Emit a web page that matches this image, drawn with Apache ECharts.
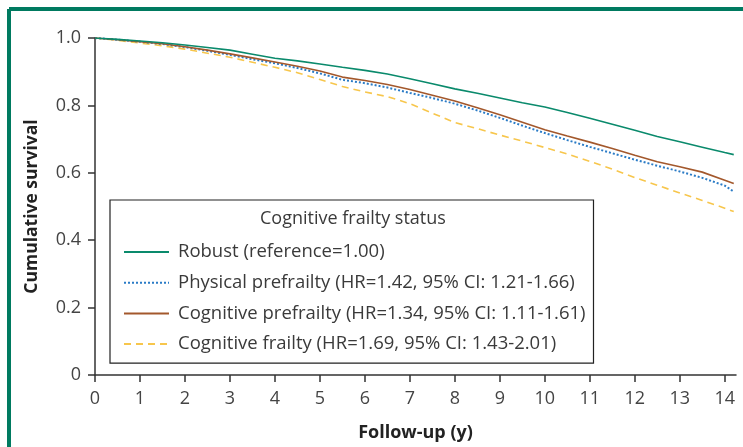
<!DOCTYPE html>
<html>
<head>
<meta charset="utf-8">
<script src="https://cdn.jsdelivr.net/npm/echarts@6/dist/echarts.min.js"></script>
<style>
html,body{margin:0;padding:0;background:#fff;}
#c{width:743px;height:447px;}
</style>
</head>
<body>
<div id="c"></div>
<script>
// Follow-up times (years)
const years = [0,0.5,1,1.5,2,2.5,3,3.5,4,4.5,5,5.5,6,6.5,7,7.5,8,8.5,9,9.5,10,10.5,11,11.5,12,12.5,13,13.5,14,14.2];
const robust = [1.000,0.996,0.991,0.986,0.979,0.972,0.964,0.952,0.940,0.932,0.923,0.913,0.904,0.893,0.879,0.864,0.849,0.836,0.822,0.808,0.795,0.779,0.762,0.744,0.726,0.708,0.692,0.676,0.660,0.654];
const physicalPrefrailty = [1.000,0.995,0.989,0.982,0.973,0.962,0.950,0.937,0.925,0.911,0.895,0.876,0.866,0.853,0.837,0.822,0.805,0.785,0.763,0.740,0.718,0.697,0.677,0.658,0.639,0.621,0.604,0.585,0.562,0.544];
const cognitivePrefrailty = [1.000,0.995,0.989,0.983,0.974,0.964,0.953,0.941,0.929,0.916,0.902,0.884,0.874,0.862,0.847,0.830,0.813,0.793,0.772,0.750,0.728,0.709,0.691,0.672,0.652,0.633,0.618,0.602,0.578,0.568];
const cognitiveFrailty = [1.000,0.993,0.985,0.977,0.967,0.955,0.943,0.928,0.913,0.897,0.877,0.856,0.840,0.826,0.805,0.777,0.749,0.731,0.712,0.694,0.675,0.656,0.634,0.611,0.586,0.563,0.540,0.518,0.495,0.485];
const xTicks = [0,1,2,3,4,5,6,7,8,9,10,11,12,13,14];
const seriesNames = [
  'Robust (reference=1.00)',
  'Physical prefrailty (HR=1.42, 95% CI: 1.21-1.66)',
  'Cognitive prefrailty (HR=1.34, 95% CI: 1.11-1.61)',
  'Cognitive frailty (HR=1.69, 95% CI: 1.43-2.01)'
];
const legendTitle = 'Cognitive frailty status';

const FONT = '"Open Sans", Lato, sans-serif';
const pair = arr => years.map((t,i)=>[t,arr[i]]);

const chart = echarts.init(document.getElementById('c'), null, {renderer:'canvas'});
chart.setOption({
  animation:false,
  backgroundColor:'#fff',
  textStyle:{fontFamily:FONT},
  title:{
    text:legendTitle, left:260, top:210, padding:0,
    textStyle:{fontFamily:FONT,fontSize:18,fontWeight:'normal',color:'#3a3a3a'}
  },
  legend:{
    orient:'vertical', left:110, top:200,
    padding:[42,8,9,13],
    borderColor:'#222', borderWidth:1.2,
    itemWidth:45, itemHeight:14, itemGap:10.7,
    itemStyle:{opacity:0},
    textStyle:{fontFamily:FONT,fontSize:18.5,color:'#3a3a3a',lineHeight:20,padding:[0,0,0,4]},
    data:seriesNames
  },
  graphic:[
    {type:'line',shape:{x1:9,y1:9,x2:743,y2:9},style:{stroke:'#007a60',lineWidth:4}},
    {type:'line',shape:{x1:9,y1:9,x2:9,y2:447},style:{stroke:'#007a60',lineWidth:4}}
  ],
  grid:{left:95,right:7,top:38,bottom:71,containLabel:false},
  xAxis:{
    type:'value', min:0, max:14.25,
    name:'Follow-up (y)', nameLocation:'middle', nameGap:49,
    nameTextStyle:{fontFamily:FONT,fontSize:18,fontWeight:'bold',color:'#222'},
    axisLine:{lineStyle:{color:'#333',width:1.5}},
    axisTick:{length:7,customValues:xTicks,lineStyle:{color:'#333',width:1.5}},
    axisLabel:{customValues:xTicks,margin:15,fontFamily:FONT,fontSize:18,color:'#444'},
    splitLine:{show:false}
  },
  yAxis:{
    type:'value', min:0, max:1, interval:0.2,
    name:'Cumulative survival', nameLocation:'middle', nameGap:54,
    nameTextStyle:{fontFamily:FONT,fontSize:17.5,fontWeight:'bold',color:'#222'},
    axisLine:{show:true,lineStyle:{color:'#333',width:1.5}},
    axisTick:{show:true,length:7,lineStyle:{color:'#333',width:1.5}},
    axisLabel:{margin:14,fontFamily:FONT,fontSize:18,color:'#444',
      formatter:v=> v===0 ? '0' : v.toFixed(1)},
    splitLine:{show:false}
  },
  series:[
    {name:seriesNames[0],type:'line',data:pair(robust),symbol:'none',z:5,
     lineStyle:{color:'#0a8a6c',width:1.6},itemStyle:{color:'#0a8a6c'}},
    {name:seriesNames[1],type:'line',data:pair(physicalPrefrailty),symbol:'none',z:3,
     lineStyle:{color:'#2a7bc6',width:2,type:[2,2]},itemStyle:{color:'#2a7bc6'}},
    {name:seriesNames[2],type:'line',data:pair(cognitivePrefrailty),symbol:'none',z:4,
     lineStyle:{color:'#a3582c',width:1.6},itemStyle:{color:'#a3582c'}},
    {name:seriesNames[3],type:'line',data:pair(cognitiveFrailty),symbol:'none',z:2,
     lineStyle:{color:'#f7c64c',width:1.6,type:[7,5]},itemStyle:{color:'#f7c64c'}}
  ]
});
</script>
</body>
</html>
